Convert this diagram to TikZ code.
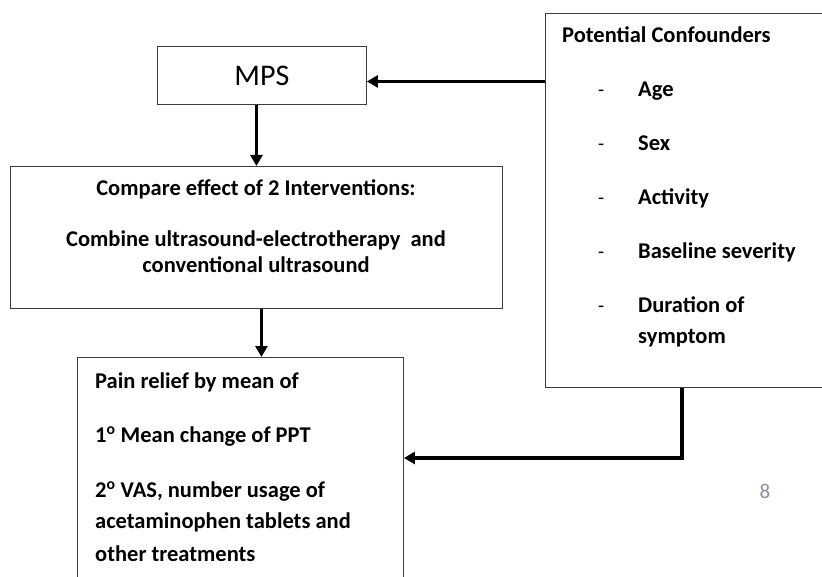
\documentclass[tikz,border=0pt]{standalone}
\usepackage{fontspec}
\setmainfont{Carlito}
\usetikzlibrary{arrows.meta, positioning}
\definecolor{BoxGray}{RGB}{60,60,60}
\definecolor{SlideGray}{RGB}{135,145,155}

\begin{document}
\begin{tikzpicture}[x=1pt, y=-1pt,
    box/.style={draw=BoxGray, line width=0.9pt, rectangle, anchor=north west, inner sep=0pt},
    conn/.style={line width=3.8pt, -{Triangle[length=11pt, width=12pt]}},
    lbl/.style={anchor=base west, inner sep=0pt, font=\fontsize{22.5}{26}\selectfont\bfseries},
    clbl/.style={lbl, anchor=base}]
            % Fixed page frame
            \useasboundingbox (0,0) rectangle (822,577);
            \clip (0,0) rectangle (822,577);

            % Boxes
            \node[box, minimum width=209pt, minimum height=58pt,
                  font=\fontsize{30}{34}\selectfont] (mps) at (157,46) {MPS};
            \node[box, minimum width=492pt, minimum height=142pt] (compare) at (10,166) {};
            \node[box, minimum width=326pt, minimum height=250pt] (pain) at (77,357) {};
            \node[box, minimum width=300pt, minimum height=374pt] (conf) at (545,13) {};

            % Interventions text
            \node[clbl] (cmp1) at (256,196) {Compare effect of 2 Interventions:};
            \node[clbl] (cmp2) at (256,247) {Combine ultrasound-electrotherapy\ \ and};
            \node[clbl] (cmp3) at (256,273) {conventional ultrasound};

            % Outcome text
            \node[lbl] (out1) at (95,388) {Pain relief\ by mean of};
            \node[lbl] (out2) at (95,442) {1\textsuperscript{o} Mean\ change of PPT};
            \node[lbl] (out3) at (95,497) {2\textsuperscript{o} VAS, number usage of};
            \node[lbl] (out4) at (95,528) {acetaminophen tablets\ and};
            \node[lbl] (out5) at (95,561) {other treatments};

            % Confounder list
            \node[lbl] (cf0) at (562,43) {Potential Confounders};
            \foreach \y/\t [count=\i] in {97/Age, 151/Sex, 205/Activity, 259/Baseline\ severity, 313/Duration of} {
                \node[lbl, font=\fontsize{20}{24}\selectfont] (dash\i) at (598,\y) {-};
                \node[lbl] (cf\i) at (638,\y) {\t};
            }
            \node[lbl] (cf6) at (638,344) {symptom};

            % Slide number
            \node[anchor=base, text=SlideGray, font=\fontsize{21}{24}\selectfont] (pg) at (765,498) {8};

            % Connections
            \coordinate (bend) at (682,458);
            \draw[conn] (mps.south -| compare.north) -- (compare.north);
            \draw[conn] ([xshift=5pt]compare.south) -- ([xshift=5pt]compare.south |- pain.north);
            \draw[conn] ([yshift=-6pt]mps.east -| conf.west) -- ([yshift=-6pt]mps.east);
            \draw[conn] (bend |- conf.south) -- (bend) -- (bend -| pain.east);
        \end{tikzpicture}
\end{document}
